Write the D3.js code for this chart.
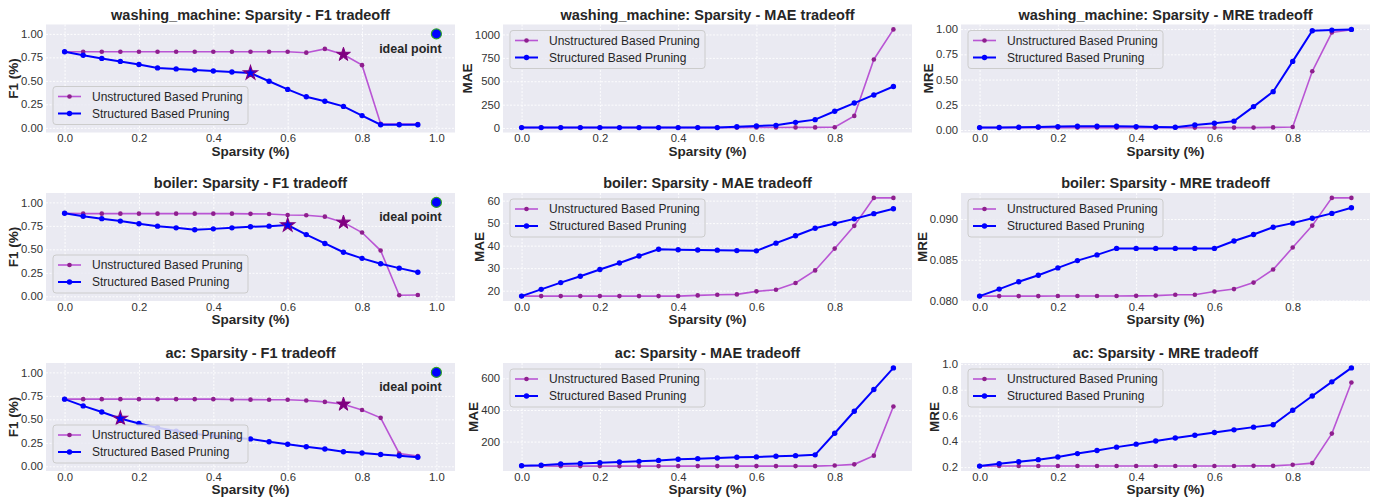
<html>
<head>
  <script src="https://d3js.org/d3.v7.min.js"></script>
  <style>
    body { margin: 0; background: white; }
    text { font-family: "Liberation Sans", Arial, sans-serif; fill: #262626; }
    .title { font-size: 14.5px; font-weight: bold; }
    .label { font-size: 13.5px; font-weight: bold; }
    .tick text { font-size: 11.3px; fill: #333; }
    .grid line { stroke: white; stroke-width: 0.9px; stroke-dasharray: 2,1.5; }
    .grid .domain { stroke: none; }
    .legend text { font-size: 12px; }
  </style>
</head>
<body>
<svg id="chart" width="1379" height="497"></svg>
<script>
// x values (sparsity levels)
const sparsity = [0, 0.05, 0.1, 0.15, 0.2, 0.25, 0.3, 0.35, 0.4, 0.45, 0.5, 0.55, 0.6, 0.65, 0.7, 0.75, 0.8, 0.85, 0.9, 0.95];

// washing_machine
const wmF1Unstr = [0.81, 0.81, 0.81, 0.81, 0.81, 0.81, 0.81, 0.81, 0.81, 0.81, 0.81, 0.81, 0.81, 0.80, 0.84, 0.78, 0.667, 0.043, 0.04, 0.04];
const wmF1Str = [0.81, 0.772, 0.739, 0.707, 0.674, 0.638, 0.627, 0.616, 0.605, 0.594, 0.583, 0.496, 0.409, 0.33, 0.283, 0.228, 0.13, 0.033, 0.033, 0.033];
const wmMaeUnstr = [5, 5, 5, 5, 5, 5, 5, 5, 5, 5, 5, 5, 6, 6, 7, 7, 8, 130, 733, 1054];
const wmMaeStr = [5, 5, 5, 5, 5, 5, 5, 5, 5, 5, 5, 14, 22, 29, 61, 90, 180, 267, 354, 444];
const wmMreUnstr = [0.024, 0.024, 0.024, 0.024, 0.024, 0.024, 0.024, 0.024, 0.024, 0.024, 0.024, 0.024, 0.024, 0.024, 0.024, 0.026, 0.03, 0.582, 0.966, 0.993];
const wmMreStr = [0.024, 0.025, 0.027, 0.03, 0.034, 0.037, 0.037, 0.037, 0.034, 0.03, 0.027, 0.05, 0.067, 0.088, 0.232, 0.38, 0.68, 0.983, 0.99, 0.997];

// boiler
const blF1Unstr = [0.884, 0.88, 0.88, 0.88, 0.88, 0.88, 0.88, 0.88, 0.88, 0.88, 0.878, 0.877, 0.866, 0.863, 0.848, 0.787, 0.679, 0.487, 0.011, 0.014];
const blF1Str = [0.884, 0.852, 0.827, 0.801, 0.773, 0.747, 0.729, 0.708, 0.718, 0.729, 0.74, 0.747, 0.758, 0.657, 0.563, 0.469, 0.404, 0.347, 0.30, 0.256];
const blMaeUnstr = [17.6, 17.6, 17.6, 17.6, 17.6, 17.6, 17.6, 17.6, 17.6, 17.9, 18.2, 18.35, 19.7, 20.4, 23.4, 29.0, 38.7, 48.8, 61.2, 61.2];
const blMaeStr = [17.6, 20.6, 23.6, 26.4, 29.4, 32.3, 35.4, 38.4, 38.2, 38.1, 38.0, 37.8, 37.7, 41.1, 44.4, 47.7, 49.8, 51.9, 54.2, 56.4];
const blMreUnstr = [0.08054, 0.08054, 0.08054, 0.08054, 0.08055, 0.08055, 0.08056, 0.08056, 0.08057, 0.0806, 0.0807, 0.0807, 0.0811, 0.0814, 0.0822, 0.0838, 0.0865, 0.0892, 0.0926, 0.0926];
const blMreStr = [0.08054, 0.0814, 0.0823, 0.0831, 0.0840, 0.0849, 0.0856, 0.0864, 0.0864, 0.0864, 0.0864, 0.0864, 0.0864, 0.0873, 0.0881, 0.0890, 0.0895, 0.0901, 0.0907, 0.0914];

// ac
const acF1Unstr = [0.715, 0.715, 0.715, 0.715, 0.715, 0.715, 0.715, 0.715, 0.715, 0.712, 0.71, 0.709, 0.708, 0.70, 0.686, 0.66, 0.60, 0.516, 0.137, 0.108];
const acF1Str = [0.715, 0.643, 0.578, 0.509, 0.455, 0.41, 0.375, 0.345, 0.325, 0.305, 0.292, 0.262, 0.235, 0.209, 0.184, 0.155, 0.141, 0.126, 0.112, 0.097];
const acMaeUnstr = [47, 46, 45, 45, 45, 45, 45, 45, 45, 45, 45, 45, 45, 45, 45, 45, 49, 56, 111, 422];
const acMaeStr = [47, 51, 58, 62, 66, 71, 75, 81, 88, 92, 96, 101, 103, 107, 111, 116, 253, 392, 529, 666];
const acMreUnstr = [0.208, 0.209, 0.209, 0.209, 0.209, 0.209, 0.209, 0.209, 0.209, 0.209, 0.209, 0.209, 0.209, 0.209, 0.21, 0.21, 0.218, 0.231, 0.46, 0.856];
const acMreStr = [0.208, 0.226, 0.242, 0.258, 0.279, 0.305, 0.329, 0.355, 0.378, 0.402, 0.426, 0.447, 0.468, 0.489, 0.51, 0.528, 0.641, 0.751, 0.861, 0.969];

// chosen points (index into sparsity) marked with a star on F1 panels
const starUnstr = [15, 15, 15];
const starStr = [10, 12, 3];

// tick values
const f1XTicks = [0, 0.2, 0.4, 0.6, 0.8, 1.0];
const errXTicks = [0, 0.2, 0.4, 0.6, 0.8];
const f1YTicks = [0, 0.25, 0.5, 0.75, 1.0];
const wmMaeTicks = [0, 250, 500, 750, 1000];
const wmMreTicks = [0, 0.25, 0.5, 0.75, 1.0];
const blMaeTicks = [20, 30, 40, 50, 60];
const blMreTicks = [0.080, 0.085, 0.090];
const acMaeTicks = [200, 400, 600];
const acMreTicks = [0.2, 0.4, 0.6, 0.8, 1.0];

const datasets = ["washing_machine", "boiler", "ac"];
const seriesNames = ["Unstructured Based Pruning", "Structured Based Pruning"];
const idealPoint = [1.0, 1.0];

const panels = [
  {r: 0, c: 0, m: "F1", un: wmF1Unstr, st: wmF1Str, yt: f1YTicks, fmt: ".2f"},
  {r: 0, c: 1, m: "MAE", un: wmMaeUnstr, st: wmMaeStr, yt: wmMaeTicks, fmt: "d"},
  {r: 0, c: 2, m: "MRE", un: wmMreUnstr, st: wmMreStr, yt: wmMreTicks, fmt: ".2f"},
  {r: 1, c: 0, m: "F1", un: blF1Unstr, st: blF1Str, yt: f1YTicks, fmt: ".2f"},
  {r: 1, c: 1, m: "MAE", un: blMaeUnstr, st: blMaeStr, yt: blMaeTicks, fmt: "d"},
  {r: 1, c: 2, m: "MRE", un: blMreUnstr, st: blMreStr, yt: blMreTicks, fmt: ".3f"},
  {r: 2, c: 0, m: "F1", un: acF1Unstr, st: acF1Str, yt: f1YTicks, fmt: ".2f"},
  {r: 2, c: 1, m: "MAE", un: acMaeUnstr, st: acMaeStr, yt: acMaeTicks, fmt: "d"},
  {r: 2, c: 2, m: "MRE", un: acMreUnstr, st: acMreStr, yt: acMreTicks, fmt: ".1f"}
];

const svg = d3.select("svg#chart");
const colLeft = [46, 503, 961];
const rowTop = [24.5, 193, 363];
const pw = 409, ph = 108;

const unColor = "#b955d4", unMarker = "#8e1f8e";
const stColor = "#0000ff";

panels.forEach(p => {
  const g = svg.append("g").attr("transform", `translate(${colLeft[p.c]},${rowTop[p.r]})`);
  const isF1 = p.m === "F1";

  let x, y;
  if (isF1) {
    x = d3.scaleLinear().domain([-0.05, 1.05]).range([0, pw]);
    y = d3.scaleLinear().domain([-0.05, 1.1]).range([ph, 0]);
  } else {
    x = d3.scaleLinear().domain([-0.0475, 0.9975]).range([0, pw]);
    const ext = d3.extent(p.un.concat(p.st));
    const pad = (ext[1] - ext[0]) * 0.05;
    y = d3.scaleLinear().domain([ext[0] - pad, ext[1] + pad]).range([ph, 0]);
  }

  g.append("rect").attr("width", pw).attr("height", ph).attr("fill", "#eaeaf2");

  const xt = isF1 ? f1XTicks : errXTicks;
  g.append("g").attr("class", "grid")
    .call(d3.axisBottom(x).tickValues(xt).tickSize(ph).tickFormat(""));
  g.append("g").attr("class", "grid")
    .call(d3.axisLeft(y).tickValues(p.yt).tickSize(-pw).tickFormat(""));

  const xa = g.append("g").attr("transform", `translate(0,${ph})`)
    .call(d3.axisBottom(x).tickValues(xt).tickSize(0).tickPadding(1.5).tickFormat(d3.format(".1f")));
  xa.select(".domain").remove();
  const ya = g.append("g")
    .call(d3.axisLeft(y).tickValues(p.yt).tickSize(0).tickPadding(3).tickFormat(d3.format(p.fmt)));
  ya.select(".domain").remove();

  // widest y tick label decides where the y label sits
  let tickW = 0;
  ya.selectAll(".tick text").each(function () { tickW = Math.max(tickW, this.getComputedTextLength()); });

  g.append("text").attr("class", "title").attr("text-anchor", "middle")
    .attr("x", pw / 2).attr("y", -5)
    .text(`${datasets[p.r]}: Sparsity - ${p.m} tradeoff`);
  g.append("text").attr("class", "label").attr("text-anchor", "middle")
    .attr("x", pw / 2).attr("y", ph + 23).text("Sparsity (%)");
  g.append("text").attr("class", "label").attr("text-anchor", "middle")
    .attr("transform", `translate(${-(tickW + 6)},${ph / 2}) rotate(-90)`)
    .text(isF1 ? "F1 (%)" : p.m);

  const line = d3.line().x((d, i) => x(sparsity[i])).y(d => y(d));

  g.append("path").datum(p.un).attr("d", line)
    .attr("fill", "none").attr("stroke", unColor).attr("stroke-width", 1.6);
  g.selectAll("circle.un").data(p.un).join("circle").attr("class", "un")
    .attr("cx", (d, i) => x(sparsity[i])).attr("cy", d => y(d)).attr("r", 2.3)
    .attr("fill", unMarker);

  g.append("path").datum(p.st).attr("d", line)
    .attr("fill", "none").attr("stroke", stColor).attr("stroke-width", 2);
  g.selectAll("circle.st").data(p.st).join("circle").attr("class", "st")
    .attr("cx", (d, i) => x(sparsity[i])).attr("cy", d => y(d)).attr("r", 2.7)
    .attr("fill", stColor);

  if (isF1) {
    const star = d3.symbol().type(d3.symbolStar).size(60);
    const iu = starUnstr[p.r], is = starStr[p.r];
    g.append("path").attr("d", star)
      .attr("transform", `translate(${x(sparsity[is])},${y(p.st[is])})`)
      .attr("fill", "#0000ff").attr("stroke", "#800080").attr("stroke-width", 1.2);
    g.append("path").attr("d", star)
      .attr("transform", `translate(${x(sparsity[iu])},${y(p.un[iu])})`)
      .attr("fill", "#800080").attr("stroke", "#800080").attr("stroke-width", 1);
    g.append("circle").attr("cx", x(idealPoint[0])).attr("cy", y(idealPoint[1])).attr("r", 5)
      .attr("fill", "#0000ff").attr("stroke", "#2ca02c").attr("stroke-width", 1.2);
    g.append("text").attr("text-anchor", "middle").attr("font-weight", "bold")
      .attr("font-size", 12.5).attr("x", x(0.93)).attr("y", y(0.8)).text("ideal point");
  }

  // legend
  const lw = 195, lh = 38;
  const ly = isF1 ? ph - 8 - lh : 6;
  const lg = g.append("g").attr("class", "legend").attr("transform", `translate(7,${ly})`);
  lg.append("rect").attr("width", lw).attr("height", lh).attr("rx", 3)
    .attr("fill", "#eaeaf2").attr("fill-opacity", 0.85).attr("stroke", "#cccccc");
  [[unColor, unMarker, 1.6, 2.3], [stColor, stColor, 2, 2.7]].forEach((s, i) => {
    const cy = 10 + i * 17;
    lg.append("line").attr("x1", 5).attr("x2", 28).attr("y1", cy).attr("y2", cy)
      .attr("stroke", s[0]).attr("stroke-width", s[2]);
    lg.append("circle").attr("cx", 16.5).attr("cy", cy).attr("r", s[3]).attr("fill", s[1]);
    lg.append("text").attr("x", 39).attr("y", cy + 4.2).text(seriesNames[i]);
  });
});
</script>
</body>
</html>
